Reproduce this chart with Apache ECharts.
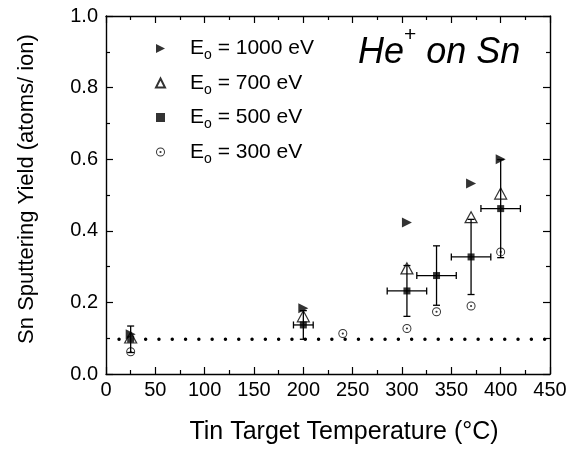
<!DOCTYPE html>
<html>
<head>
<meta charset="utf-8">
<script src="https://cdn.jsdelivr.net/npm/echarts@6/dist/echarts.min.js"></script>
<style>
  html, body { margin: 0; padding: 0; background: #fff; }
  #chart { width: 578px; height: 450px; }
</style>
</head>
<body>
<div id="chart"></div>
<script>
// values
const xE1000 = [25, 200, 305, 370, 400]
const yE1000 = [0.111, 0.184, 0.423, 0.532, 0.600]
const xE700 = [25, 200, 305, 370, 400]
const yE700 = [0.102, 0.161, 0.295, 0.438, 0.504]
const xE500 = [25, 200, 305, 335, 370, 400]
const yE500 = [0.097, 0.137, 0.232, 0.275, 0.327, 0.462]
const xErr500 = [0, 10, 20, 20, 20, 20]
const yErr500 = [0.037, 0.04, 0.071, 0.083, 0.105, 0.137]
const xE300 = [25, 240, 305, 335, 370, 400]
const yE300 = [0.062, 0.113, 0.127, 0.174, 0.190, 0.341]
const baseLineX = [0, 450]
const baseLineY = 0.097
const legendNames = ['1000', '700', '500', '300']

const font = 'Liberation Sans, Arial, Helvetica, sans-serif'
const zip = (xs, ys) => xs.map((x, i) => [x, ys[i]])

// right pointing triangle, and open circle with a dot in the middle
const rightTri = 'path://M0,0 L10,5 L0,10 Z'
const dotCircle = 'path://M0,10 A10,10 0 1,0 20,10 A10,10 0 1,0 0,10 Z M2.2,10 A7.8,7.8 0 1,1 17.8,10 A7.8,7.8 0 1,1 2.2,10 Z M7.6,10 A2.4,2.4 0 1,0 12.4,10 A2.4,2.4 0 1,0 7.6,10 Z'

const errData = xE500.map((x, i) => [x, yE500[i], xErr500[i], yErr500[i]])

const renderErr = (params, api) => {
  const x = api.value(0), y = api.value(1), ex = api.value(2), ey = api.value(3)
  const st = { stroke: '#000', lineWidth: 1.3 }
  const cap = 3.5
  const kids = []
  const c = api.coord([x, y])
  if (ey > 0) {
    const top = api.coord([x, y + ey]), bot = api.coord([x, y - ey])
    kids.push({ type: 'line', shape: { x1: c[0], y1: top[1], x2: c[0], y2: bot[1] }, style: st })
    kids.push({ type: 'line', shape: { x1: c[0] - cap, y1: top[1], x2: c[0] + cap, y2: top[1] }, style: st })
    kids.push({ type: 'line', shape: { x1: c[0] - cap, y1: bot[1], x2: c[0] + cap, y2: bot[1] }, style: st })
  }
  if (ex > 0) {
    const l = api.coord([x - ex, y]), r = api.coord([x + ex, y])
    kids.push({ type: 'line', shape: { x1: l[0], y1: c[1], x2: r[0], y2: c[1] }, style: st })
    kids.push({ type: 'line', shape: { x1: l[0], y1: c[1] - cap, x2: l[0], y2: c[1] + cap }, style: st })
    kids.push({ type: 'line', shape: { x1: r[0], y1: c[1] - cap, x2: r[0], y2: c[1] + cap }, style: st })
  }
  return { type: 'group', children: kids }
}

const axisCommon = {
  axisLine: { show: true, onZero: false, lineStyle: { color: '#000', width: 1.4 } },
  axisTick: { show: true, inside: true, length: 7, lineStyle: { color: '#000', width: 1.2 } },
  minorTick: { show: true, splitNumber: 2, length: 4, lineStyle: { color: '#000', width: 1.2 } },
  splitLine: { show: false }
}

const chart = echarts.init(document.getElementById('chart'))
chart.setOption({
  backgroundColor: '#fff',
  animation: false,
  grid: { left: 106, right: 28, top: 16, bottom: 75 },
  xAxis: [
    Object.assign({
      type: 'value', min: 0, max: 450, interval: 50, position: 'bottom',
      name: 'Tin Target Temperature (°C)', nameLocation: 'middle', nameGap: 46,
      nameTextStyle: { fontFamily: font, fontSize: 25, color: '#000', padding: [0, 0, 0, 32] },
      axisLabel: { fontFamily: font, fontSize: 20, color: '#000', margin: 6 }
    }, axisCommon),
    Object.assign({
      type: 'value', min: 0, max: 450, interval: 50, position: 'top',
      axisLabel: { show: false }
    }, axisCommon)
  ],
  yAxis: [
    Object.assign({
      type: 'value', min: 0, max: 1, interval: 0.2, position: 'left',
      name: 'Sn Sputtering Yield (atoms/ ion)', nameLocation: 'middle', nameGap: 68,
      nameTextStyle: { fontFamily: font, fontSize: 22, color: '#000', padding: [0, 0, 0, 12] },
      axisLabel: { fontFamily: font, fontSize: 20, color: '#000', margin: 8,
        formatter: v => v.toFixed(1) }
    }, axisCommon),
    Object.assign({
      type: 'value', min: 0, max: 1, interval: 0.2, position: 'right',
      axisLabel: { show: false }
    }, axisCommon)
  ],
  legend: {
    orient: 'vertical', left: 155, top: 38,
    itemWidth: 9, itemHeight: 9, itemGap: 10,
    data: legendNames,
    formatter: n => '{f|E}{s|o}{e| = ' + n + ' eV}',
    textStyle: {
      fontFamily: font, color: '#000',
      rich: {
        f: { fontFamily: font, fontSize: 21, lineHeight: 28, color: '#000', padding: [0, 0, 0, 20] },
        e: { fontFamily: font, fontSize: 21, lineHeight: 28, color: '#000' },
        s: { fontFamily: font, fontSize: 14, lineHeight: 8, verticalAlign: 'bottom', color: '#000' }
      }
    },
    padding: 0
  },
  graphic: [{
    type: 'text', left: 358, top: 25,
    style: {
      text: '{a|He}{b|+}{a| on Sn}',
      rich: {
        a: { fontFamily: font, fontSize: 36, fontStyle: 'italic', lineHeight: 56, fill: '#000' },
        b: { fontFamily: font, fontSize: 21, lineHeight: 14, verticalAlign: 'top', fill: '#000' }
      }
    }
  }],
  series: [
    {
      type: 'line', data: baseLineX.map(x => [x, baseLineY]), symbol: 'none', silent: true,
      lineStyle: { color: '#000', width: 3.4, type: [0.1, 13.2], cap: 'round', dashOffset: -13 },
      z: 1
    },
    {
      name: '1000', type: 'scatter', data: zip(xE1000, yE1000),
      symbol: rightTri, symbolSize: [10, 10],
      itemStyle: { color: '#000' }, z: 3
    },
    {
      name: '700', type: 'scatter', data: zip(xE700, yE700),
      symbol: 'triangle', symbolSize: [12, 11],
      itemStyle: { color: '#fff', borderColor: '#000', borderWidth: 1.2 }, z: 2
    },
    {
      name: '500', type: 'scatter', data: zip(xE500, yE500),
      symbol: 'rect', symbolSize: 7,
      itemStyle: { color: '#000' }, z: 4
    },
    {
      name: '300', type: 'scatter', data: zip(xE300, yE300),
      symbol: dotCircle, symbolSize: 9,
      itemStyle: { color: '#000' }, z: 4
    },
    {
      type: 'custom', data: errData, renderItem: renderErr, silent: true,
      encode: { x: 0, y: 1 }, z: 5
    }
  ]
})
</script>
</body>
</html>
